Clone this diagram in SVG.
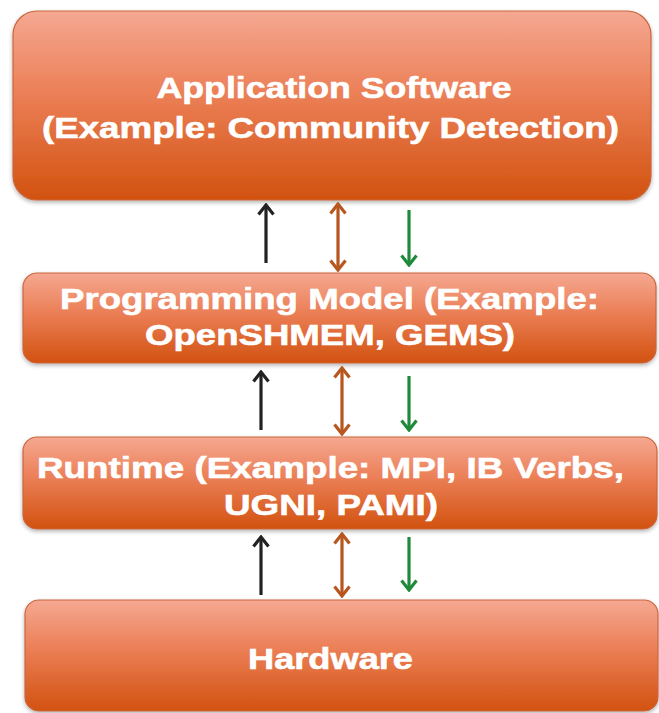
<svg xmlns="http://www.w3.org/2000/svg" width="659" height="713" viewBox="0 0 659 713">
<style>
.box{stroke:#C9673F;stroke-width:1.2;filter:url(#sh)}
.lbl{font-family:"Liberation Sans",Arial,sans-serif;font-weight:bold;font-size:30px;fill:#FFFFFF;stroke:#FFFFFF;stroke-width:0.6;text-anchor:middle}
.ak{stroke:#222222;stroke-width:3.2;fill:none}
.ab{stroke:#B8561F;stroke-width:3.2;fill:none}
.ag{stroke:#1F8A3B;stroke-width:3.2;fill:none}
</style>
<defs>
<linearGradient id="g" x1="0" y1="0" x2="0" y2="1">
<stop offset="0" stop-color="#F5A891"/>
<stop offset="0.45" stop-color="#EB7E55"/>
<stop offset="1" stop-color="#D2520F"/>
</linearGradient>
<filter id="sh" x="-5%" y="-5%" width="110%" height="115%">
<feGaussianBlur in="SourceAlpha" stdDeviation="2"/>
<feOffset dy="2" result="b"/>
<feComponentTransfer><feFuncA type="linear" slope="0.3"/></feComponentTransfer>
<feMerge><feMergeNode/><feMergeNode in="SourceGraphic"/></feMerge>
</filter>
<marker id="mk" viewBox="0 0 13 18" refX="11" refY="9" markerWidth="13" markerHeight="18" markerUnits="userSpaceOnUse" orient="auto-start-reverse">
<path d="M1.5,1.5 L11,9 L1.5,16.5" fill="none" stroke="#222222" stroke-width="3.2"/>
</marker>
<marker id="mb" viewBox="0 0 13 18" refX="11" refY="9" markerWidth="13" markerHeight="18" markerUnits="userSpaceOnUse" orient="auto-start-reverse">
<path d="M1.5,1.5 L11,9 L1.5,16.5" fill="none" stroke="#B8561F" stroke-width="3.2"/>
</marker>
<marker id="mg" viewBox="0 0 13 18" refX="11" refY="9" markerWidth="13" markerHeight="18" markerUnits="userSpaceOnUse" orient="auto-start-reverse">
<path d="M1.5,1.5 L11,9 L1.5,16.5" fill="none" stroke="#1F8A3B" stroke-width="3.2"/>
</marker>
</defs>
<rect width="659" height="713" fill="#FFFFFF"/>
<g id="app">
<rect class="box" x="13" y="11" width="638" height="189" rx="24" fill="url(#g)"/>
<text class="lbl" x="334" y="98" textLength="355" lengthAdjust="spacingAndGlyphs">Application Software</text>
<text class="lbl" x="330.5" y="138" textLength="577" lengthAdjust="spacingAndGlyphs">(Example: Community Detection)</text>
</g>
<g id="progmodel">
<rect class="box" x="23" y="273" width="633" height="90" rx="14" fill="url(#g)"/>
<text class="lbl" x="329.5" y="309" textLength="539" lengthAdjust="spacingAndGlyphs">Programming Model (Example:</text>
<text class="lbl" x="330" y="345" textLength="370" lengthAdjust="spacingAndGlyphs">OpenSHMEM, GEMS)</text>
</g>
<g id="runtime">
<rect class="box" x="23" y="437" width="634" height="92" rx="14" fill="url(#g)"/>
<text class="lbl" x="330.5" y="478" textLength="587" lengthAdjust="spacingAndGlyphs">Runtime (Example: MPI, IB Verbs,</text>
<text class="lbl" x="331" y="515" textLength="214" lengthAdjust="spacingAndGlyphs">UGNI, PAMI)</text>
</g>
<g id="hardware">
<rect class="box" x="25" y="600" width="633" height="111" rx="14" fill="url(#g)"/>
<text class="lbl" x="330.5" y="669" textLength="165" lengthAdjust="spacingAndGlyphs">Hardware</text>
</g>
<g id="connectors">
<line class="ak" x1="266" y1="263" x2="266" y2="205" marker-end="url(#mk)"/>
<line class="ab" x1="338" y1="204" x2="338" y2="270" marker-start="url(#mb)" marker-end="url(#mb)"/>
<line class="ag" x1="409" y1="210" x2="409" y2="265" marker-end="url(#mg)"/>
<line class="ak" x1="261" y1="430" x2="261" y2="372" marker-end="url(#mk)"/>
<line class="ab" x1="342" y1="368" x2="342" y2="434" marker-start="url(#mb)" marker-end="url(#mb)"/>
<line class="ag" x1="409" y1="376" x2="409" y2="430" marker-end="url(#mg)"/>
<line class="ak" x1="261" y1="595" x2="261" y2="537" marker-end="url(#mk)"/>
<line class="ab" x1="342" y1="534" x2="342" y2="596" marker-start="url(#mb)" marker-end="url(#mb)"/>
<line class="ag" x1="409" y1="537" x2="409" y2="590" marker-end="url(#mg)"/>
</g>
</svg>
